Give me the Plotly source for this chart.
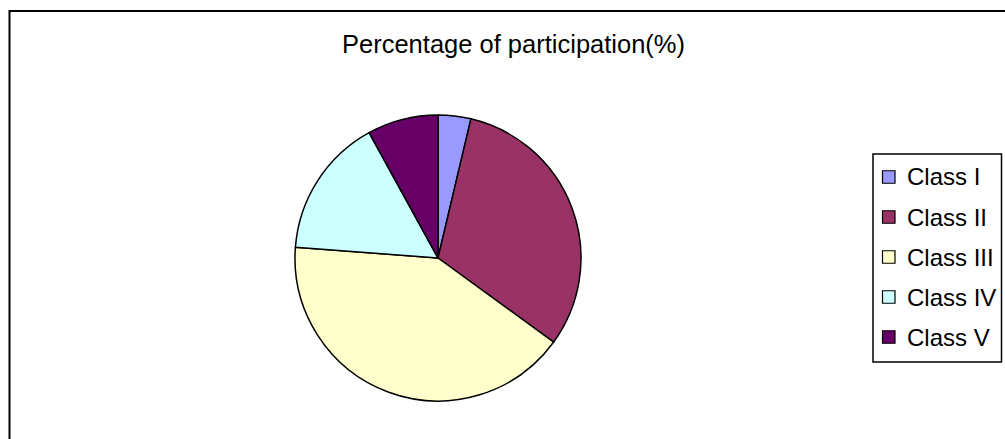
import plotly.graph_objects as go

categories = ["Class I", "Class II", "Class III", "Class IV", "Class V"]
values = [3.7, 31.3, 41.2, 15.8, 8.0]
colors = ["#9999FF", "#993366", "#FFFFCC", "#CCFFFF", "#660066"]
title_text = "Percentage of participation(%)"

W, H = 1005, 439
FONT = "Liberation Sans, Arial, sans-serif"


def px(x):
    return x / W


def py(y):
    return 1 - y / H


fig = go.Figure(go.Pie(
    labels=categories,
    values=values,
    sort=False,
    direction="clockwise",
    rotation=0,
    textinfo="none",
    hoverinfo="label+value",
    marker=dict(colors=colors, line=dict(color="black", width=1.5)),
    domain=dict(x=[px(295), px(581)], y=[py(401), py(115)]),
    showlegend=False,
))

shapes = [
    # outer chart frame
    dict(type="rect", xref="paper", yref="paper",
         x0=px(9.5), x1=1.05, y0=-0.1, y1=py(11),
         line=dict(color="black", width=2), fillcolor="rgba(0,0,0,0)", layer="above"),
    # legend box
    dict(type="rect", xref="paper", yref="paper",
         x0=px(873), x1=px(1001.5), y0=py(362), y1=py(154),
         line=dict(color="black", width=1.5), fillcolor="white", layer="above"),
]
annotations = [dict(
    text=title_text,
    x=px(513), y=py(44), xref="paper", yref="paper",
    xanchor="center", yanchor="middle", showarrow=False,
    font=dict(size=25.5, family=FONT, color="black"),
)]

# legend entries (legend layout, derived from the category list)
first_y, step, sq = 177, 40, 12.5
for i, (cat, col) in enumerate(zip(categories, colors)):
    cy = first_y + i * step
    shapes.append(dict(
        type="rect", xref="paper", yref="paper",
        x0=px(882.5), x1=px(882.5 + sq), y0=py(cy + sq / 2), y1=py(cy - sq / 2),
        line=dict(color="black", width=1.2), fillcolor=col, layer="above",
    ))
    annotations.append(dict(
        text=cat, x=px(905), y=py(cy), xref="paper", yref="paper",
        xanchor="left", yanchor="middle", showarrow=False,
        font=dict(size=24, family=FONT, color="black"),
    ))

fig.update_layout(
    width=W, height=H,
    margin=dict(l=0, r=0, t=0, b=0),
    paper_bgcolor="white",
    plot_bgcolor="white",
    font=dict(family=FONT, color="black"),
    shapes=shapes,
    annotations=annotations,
)

fig.write_html("out.html")
